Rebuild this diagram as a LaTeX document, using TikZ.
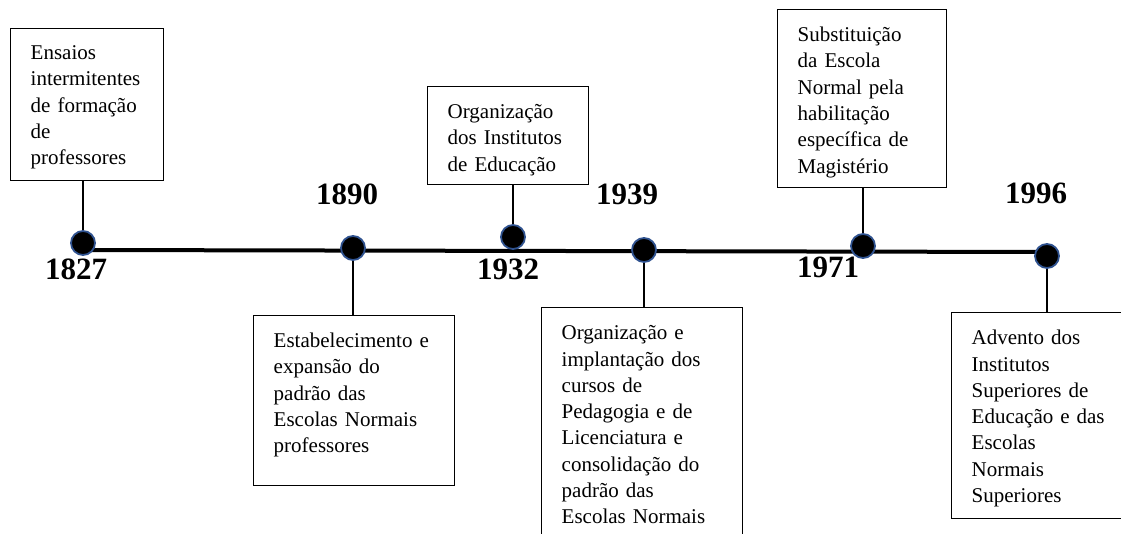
\documentclass[tikz,border=0pt]{standalone}
\usepackage{fontspec}
\setmainfont{Liberation Serif}
\usepackage{tikz}
\definecolor{dotblue}{RGB}{47,82,143}

\begin{document}
\begin{tikzpicture}[x=1pt, y=-1pt, % 画像と同じ向きの座標
  box/.style={draw, line width=1.4pt, anchor=north west, align=left, inner xsep=20pt, inner ysep=0pt,
    font=\fontsize{21}{26.3}\selectfont}, % 説明の枠
  dot/.style={circle, fill=black, draw=dotblue, line width=1.8pt, minimum size=24pt, inner sep=0pt}, % 年の点
  year/.style={anchor=base west, inner sep=0pt, font=\fontsize{31}{31}\selectfont\bfseries}, % 年
  link/.style={line width=1.6pt}] % 枠と点を結ぶ線
  \path[use as bounding box, clip] (0,0) rectangle (1121,534); % 全体の大きさ

  \coordinate (ini) at (83,250); % 軸の左端
  \coordinate (fim) at (1047,252); % 軸の右端
  \draw[line width=4pt] (ini) -- (fim); % 時間軸

  \node[dot] (d1827) at (83,243) {};
  \node[dot] (d1890) at (353,248) {};
  \node[dot] (d1932) at (513,237) {};
  \node[dot] (d1939) at (644,250) {};
  \node[dot] (d1971) at (863,246) {};
  \node[dot] (d1996) at (1047,256) {};

  \node[year] (y1827) at (45,280) {1827}; % 点の下
  \node[year] (y1890) at (316,205) {1890}; % 点の上
  \node[year] (y1932) at (477,280) {1932};
  \node[year] (y1939) at (596,205) {1939};
  \node[year] (y1971) at (797,278) {1971};
  \node[year] (y1996) at (1005,204) {1996};

  \node[box, text width=113pt, text height=31pt, text depth=121pt] (b1827) at (10,28)
    {Ensaios\\intermitentes\\de formação\\de\\professores};
  \node[box, text width=161pt, text height=32pt, text depth=138pt] (b1890) at (253,315)
    {Estabelecimento e\\expansão do\\padrão das\\Escolas Normais\\professores};
  \node[box, text width=121pt, text height=32pt, text depth=66pt] (b1932) at (427,86)
    {Organização\\dos Institutos\\de Educação};
  \node[box, text width=161pt, text height=32pt, text depth=250pt] (b1939) at (541,307)
    {Organização e\\implantação dos\\cursos de\\Pedagogia e de\\Licenciatura e\\consolidação do\\padrão das\\Escolas Normais}; % 下は切れる
  \node[box, text width=129pt, text height=32pt, text depth=146pt] (b1971) at (777,9)
    {Substituição\\da Escola\\Normal pela\\habilitação\\específica de\\Magistério};
  \node[box, text width=150pt, text height=32pt, text depth=174pt] (b1996) at (951,312)
    {Advento dos\\Institutos\\Superiores de\\Educação e das\\Escolas\\Normais\\Superiores}; % 右は切れる

  \draw[link] (d1827) -- (d1827 |- b1827.south); % 上の枠へ
  \draw[link] (d1932) -- (d1932 |- b1932.south);
  \draw[link] (d1971) -- (d1971 |- b1971.south);
  \draw[link] (d1890) -- (d1890 |- b1890.north); % 下の枠へ
  \draw[link] (d1939) -- (d1939 |- b1939.north);
  \draw[link] (d1996) -- (d1996 |- b1996.north);

\end{tikzpicture}
\end{document}
